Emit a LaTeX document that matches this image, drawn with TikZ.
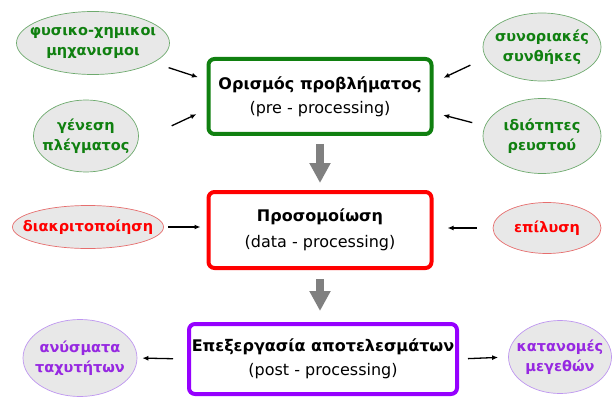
\documentclass[tikz,border=0pt]{standalone}
\usepackage{fontspec}
\setmainfont{DejaVu Sans}
\usetikzlibrary{shapes.geometric,arrows.meta}

\definecolor{pregreen}{RGB}{16,128,16}
\definecolor{preline}{RGB}{110,170,110}
\definecolor{datared}{RGB}{255,0,0}
\definecolor{dataline}{RGB}{230,110,110}
\definecolor{postviolet}{RGB}{150,0,255}
\definecolor{posttext}{RGB}{150,40,225}
\definecolor{postline}{RGB}{190,150,240}
\definecolor{ellgray}{RGB}{232,232,232}
\definecolor{flowgray}{RGB}{128,128,128}

\newcommand{\stagetitle}[1]{{\fontsize{16}{19}\selectfont\bfseries #1}}

\begin{document}
\begin{tikzpicture}[x=1pt,y=-1pt,
	stage/.style={draw, rounded corners=6pt, line width=4pt, inner xsep=0pt, align=center, font=\fontsize{16}{19}\selectfont},
	topic/.style={ellipse, draw, line width=0.7pt, fill=ellgray, inner sep=-14pt, align=center, font=\fontsize{14.5}{20}\selectfont\bfseries},
	link/.style={-{Latex[length=6pt,width=5pt]}, line width=1.3pt},
	flow/.style={draw=flowgray, line width=8pt, -{Triangle[length=20pt,width=20pt]}}]
	\useasboundingbox (0,0) rectangle (612,398);
	
	% the three stages
	\node[stage, draw=pregreen, minimum width=223pt, minimum height=75pt] (def) at (320,96.5) {\stagetitle{Ορισμός προβλήματος}\\[5pt](pre - processing)};
	\node[stage, draw=datared, minimum width=223pt, minimum height=76pt] (sim) at (320,230) {\stagetitle{Προσομοίωση}\\[7pt](data - processing)};
	\node[stage, draw=postviolet, minimum width=268pt, minimum height=70pt] (post) at (323,359) {\stagetitle{Επεξεργασία αποτελεσμάτων}\\[5pt](post - processing)};
	
	% inputs and outputs
	\node[topic, draw=preline, text=pregreen, minimum width=153pt, minimum height=63pt] (phys) at (93,43) {φυσικο-χημικοι\\μηχανισμοι};
	\node[topic, draw=preline, text=pregreen, minimum width=105pt, minimum height=72pt] (mesh) at (86,136) {γένεση\\πλέγματος};
	\node[topic, draw=preline, text=pregreen, minimum width=118pt, minimum height=68pt] (bound) at (542,47) {συνοριακές\\συνθήκες};
	\node[topic, draw=preline, text=pregreen, minimum width=118pt, minimum height=75pt] (fluid) at (542,136) {ιδιότητες\\ρευστού};
	\node[topic, draw=dataline, text=datared, minimum width=151pt, minimum height=43pt] (discr) at (88,227) {διακριτοποίηση};
	\node[topic, draw=dataline, text=datared, minimum width=108pt, minimum height=51pt] (solve) at (547,228) {επίλυση};
	\node[topic, draw=postline, text=posttext, minimum width=114pt, minimum height=77pt] (vel) at (80,358) {ανύσματα\\ταχυτήτων};
	\node[topic, draw=postline, text=posttext, minimum width=103pt, minimum height=73pt] (dist) at (560,357) {κατανομές\\μεγεθών};
	
	\path [link] (phys) edge[shorten <=16pt, shorten >=9pt] ([yshift=16.5pt]def.west);
	\path [link] (mesh.-6) edge[shorten <=37pt, shorten >=11pt] ([yshift=-13pt]def.west);
	\path [link] (bound.191) edge[shorten <=17pt, shorten >=11pt] ([yshift=14pt]def.east);
	\path [link] (fluid.170) edge[shorten <=13pt, shorten >=10pt] ([yshift=-16pt]def.east);
	\path [link] (discr.east) edge[shorten <=4.5pt, shorten >=6pt] ([yshift=3pt]sim.west);
	\path [link] (solve.west) edge[shorten <=16pt, shorten >=14pt] ([yshift=2pt]sim.east);
	\path [link] (post.west) edge[shorten <=14pt, shorten >=5pt] (vel.east);
	\path [link] (post.east) edge[shorten <=9pt, shorten >=10pt] (dist.west);
	
	\draw [flow, shorten <=8pt, shorten >=7pt] (def.south) -- (sim.north);
	\draw [flow, shorten <=9pt, shorten >=11pt] (sim.south) -- (sim.south |- post.north);
\end{tikzpicture}
\end{document}
